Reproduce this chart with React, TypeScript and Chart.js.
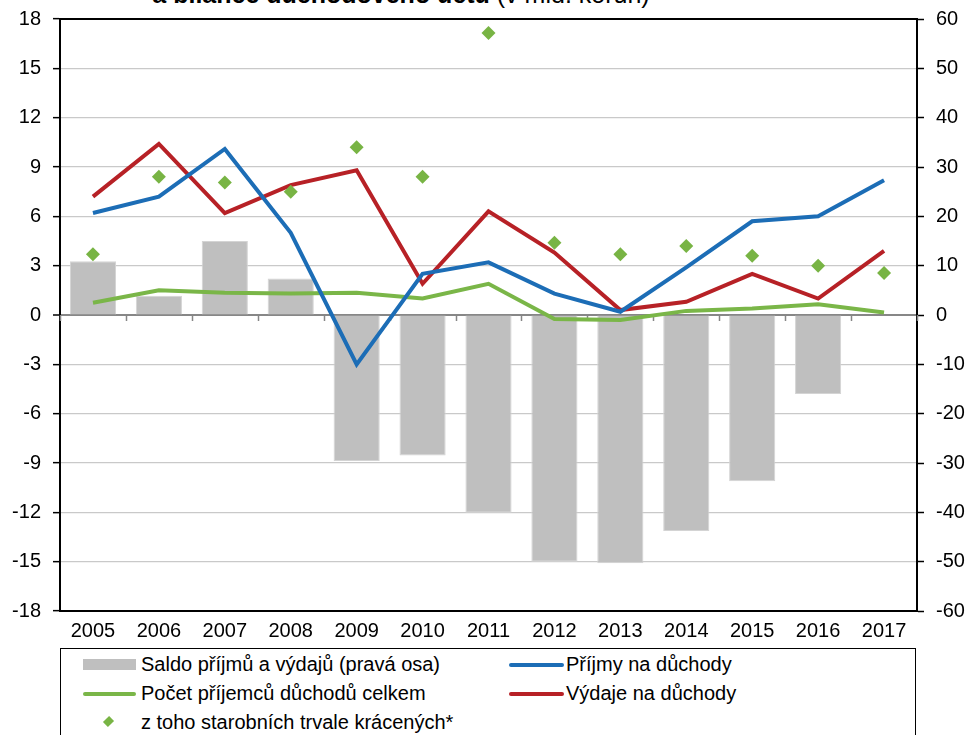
import React, { useEffect, useRef } from "react";
import { Chart, registerables } from "chart.js";

Chart.register(...registerables);

const FONT = "'Liberation Sans', Arial, Helvetica, sans-serif";

// ---- data ----
const years = ["2005", "2006", "2007", "2008", "2009", "2010", "2011", "2012", "2013", "2014", "2015", "2016", "2017"];
// Saldo příjmů a výdajů (pravá osa), mld. Kč
const saldo = [10.9, 3.9, 15.0, 7.4, -29.6, -28.5, -40.1, -50.0, -50.3, -43.8, -33.7, -16.0, null];
// Příjmy na důchody (levá osa)
const prijmy = [6.2, 7.2, 10.1, 5.0, -3.0, 2.5, 3.2, 1.3, 0.2, 2.9, 5.7, 6.0, 8.2];
// Výdaje na důchody (levá osa)
const vydaje = [7.2, 10.4, 6.2, 7.9, 8.8, 1.9, 6.3, 3.8, 0.3, 0.8, 2.5, 1.0, 3.9];
// Počet příjemců důchodů celkem (levá osa)
const pocet = [0.75, 1.5, 1.35, 1.3, 1.35, 1.0, 1.9, -0.25, -0.3, 0.25, 0.4, 0.65, 0.15];
// z toho starobních trvale krácených* (levá osa)
const kracene = [3.7, 8.4, 8.05, 7.5, 10.2, 8.4, 17.15, 4.4, 3.7, 4.2, 3.6, 3.0, 2.55];

const leftTicks = { min: -18, max: 18, step: 3 };
const rightTicks = { min: -60, max: 60, step: 10 };

const COLORS = {
  bar: "#bfbfbf",
  blue: "#1c6db6",
  red: "#b72126",
  green: "#7ab648",
  diamond: "#78b444",
};

const zeroAxisPlugin = {
  id: "zeroAxis",
  beforeDatasetsDraw(chart: any) {
    const { ctx, chartArea, scales } = chart;
    const y0 = scales.y.getPixelForValue(0);
    const n = years.length;
    const w = (chartArea.right - chartArea.left) / n;
    ctx.save();
    ctx.strokeStyle = "#868686";
    ctx.lineWidth = 1.5;
    for (let i = 0; i <= n; i++) {
      const x = Math.round(chartArea.left + i * w) + 0.5;
      ctx.beginPath();
      ctx.moveTo(x, y0);
      ctx.lineTo(x, y0 + 6);
      ctx.stroke();
    }
    ctx.restore();
  },
  afterDraw(chart: any) {
    const { ctx, chartArea } = chart;
    ctx.save();
    ctx.strokeStyle = "#000";
    ctx.lineWidth = 2;
    ctx.beginPath();
    ctx.moveTo(chartArea.left - 1, chartArea.top);
    ctx.lineTo(chartArea.right + 1, chartArea.top);
    ctx.stroke();
    ctx.restore();
  },
};

function Legend() {
  const text: React.CSSProperties = {
    position: "absolute",
    fontSize: 20,
    lineHeight: "24px",
    whiteSpace: "nowrap",
    color: "#000",
  };
  return (
    <div
      style={{
        position: "absolute",
        left: 60,
        top: 648,
        width: 856,
        height: 110,
        border: "1px solid #000",
        boxSizing: "border-box",
        background: "#fff",
      }}
    >
      {/* row 1 */}
      <div style={{ position: "absolute", left: 22, top: 10, width: 53, height: 11, background: COLORS.bar }} />
      <div style={{ ...text, left: 80, top: 3 }}>Saldo příjmů a výdajů (pravá osa)</div>
      <div style={{ position: "absolute", left: 448, top: 14, width: 55, height: 4, background: COLORS.blue, borderRadius: 2 }} />
      <div style={{ ...text, left: 505, top: 3 }}>Příjmy na důchody</div>
      {/* row 2 */}
      <div style={{ position: "absolute", left: 22, top: 43, width: 53, height: 4, background: COLORS.green, borderRadius: 2 }} />
      <div style={{ ...text, left: 80, top: 32 }}>Počet příjemců důchodů celkem</div>
      <div style={{ position: "absolute", left: 448, top: 43, width: 55, height: 4, background: COLORS.red, borderRadius: 2 }} />
      <div style={{ ...text, left: 505, top: 32 }}>Výdaje na důchody</div>
      {/* row 3 */}
      <div
        style={{
          position: "absolute",
          left: 44,
          top: 69,
          width: 7,
          height: 7,
          background: COLORS.diamond,
          transform: "rotate(45deg) scaleY(1.25)",
        }}
      />
      <div style={{ ...text, left: 80, top: 61 }}>z toho starobních trvale krácených*</div>
    </div>
  );
}

export default function App() {
  const ref = useRef<HTMLCanvasElement>(null);

  useEffect(() => {
    if (!ref.current) return;
    Chart.defaults.font.family = FONT;
    Chart.defaults.color = "#000";
    const chart = new Chart(ref.current, {
      type: "bar",
      data: {
        labels: years,
        datasets: [
          {
            type: "line",
            label: "z toho starobních trvale krácených*",
            data: kracene,
            yAxisID: "y",
            showLine: false,
            pointStyle: "rectRot",
            pointRadius: 7,
            pointBackgroundColor: COLORS.diamond,
            pointBorderColor: COLORS.diamond,
            pointBorderWidth: 0,
            order: 0,
          },
          {
            type: "line",
            label: "Příjmy na důchody",
            data: prijmy,
            yAxisID: "y",
            borderColor: COLORS.blue,
            borderWidth: 4,
            pointRadius: 0,
            tension: 0,
            order: 1,
          },
          {
            type: "line",
            label: "Výdaje na důchody",
            data: vydaje,
            yAxisID: "y",
            borderColor: COLORS.red,
            borderWidth: 4,
            pointRadius: 0,
            tension: 0,
            order: 1,
          },
          {
            type: "line",
            label: "Počet příjemců důchodů celkem",
            data: pocet,
            yAxisID: "y",
            borderColor: COLORS.green,
            borderWidth: 4,
            pointRadius: 0,
            tension: 0,
            order: 2,
          },
          {
            type: "bar",
            label: "Saldo příjmů a výdajů (pravá osa)",
            data: saldo,
            yAxisID: "y1",
            backgroundColor: COLORS.bar,
            borderColor: "#d4d4d4",
            borderWidth: 1,
            barPercentage: 0.7,
            categoryPercentage: 1,
            order: 10,
          },
        ],
      },
      options: {
        responsive: true,
        maintainAspectRatio: false,
        animation: false,
        layout: { padding: { top: 19, left: 0, right: 0, bottom: 0 } },
        plugins: {
          legend: { display: false },
          tooltip: { enabled: false },
          title: { display: false },
        },
        scales: {
          x: {
            offset: true,
            grid: { display: true, drawOnChartArea: false, drawTicks: false },
            border: { color: "#000", width: 2 },
            ticks: { font: { size: 20 }, color: "#000", padding: 8, maxRotation: 0, autoSkip: false },
            afterFit(scale: any) {
              scale.height = 37;
              scale.paddingLeft = 0;
              scale.paddingRight = 0;
            },
          },
          y: {
            position: "left",
            min: leftTicks.min,
            max: leftTicks.max,
            ticks: { stepSize: leftTicks.step, font: { size: 20 }, color: "#000", padding: 12 },
            grid: {
              color: (c: any) => (c.tick && c.tick.value === 0 ? "#878787" : "#c9c9c9"),
              lineWidth: (c: any) => (c.tick && c.tick.value === 0 ? 2 : 1.3),
              tickColor: "#000",
              tickLength: 7,
              tickWidth: 1.5,
            },
            border: { color: "#000", width: 2 },
            afterFit(scale: any) {
              scale.width = 60;
              scale.paddingTop = 0;
              scale.paddingBottom = 0;
            },
          },
          y1: {
            position: "right",
            min: rightTicks.min,
            max: rightTicks.max,
            ticks: { stepSize: rightTicks.step, font: { size: 20 }, color: "#000", padding: 12 },
            grid: { drawOnChartArea: false, tickColor: "#000", tickLength: 7, tickWidth: 1.5 },
            border: { color: "#000", width: 2 },
            afterFit(scale: any) {
              scale.width = 51;
              scale.paddingTop = 0;
              scale.paddingBottom = 0;
            },
          },
        },
      },
      plugins: [zeroAxisPlugin],
    });
    return () => chart.destroy();
  }, []);

  return (
    <div
      style={{
        position: "absolute",
        left: 0,
        top: 0,
        width: 968,
        height: 735,
        overflow: "hidden",
        background: "#fff",
        fontFamily: FONT,
      }}
    >
      <div
        style={{
          position: "absolute",
          left: 0,
          top: -18,
          width: 802,
          textAlign: "center",
          fontSize: 25,
          lineHeight: "25px",
          whiteSpace: "nowrap",
          color: "#000",
        }}
      >
        <b>a bilance důchodového účtu</b> (v mld. korun)
      </div>
      <div style={{ position: "absolute", left: 0, top: 0, width: 968, height: 648 }}>
        <canvas ref={ref} />
      </div>
      <Legend />
    </div>
  );
}
